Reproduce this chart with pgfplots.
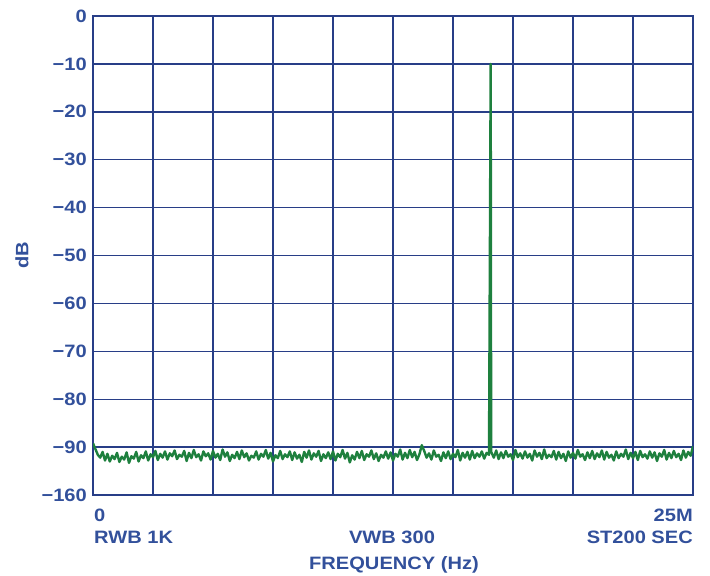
\documentclass[border=0pt]{standalone}
\usepackage{pgfplots}
\pgfplotsset{compat=1.18}
\usepackage{fontspec}
\setmainfont{Liberation Sans}[FakeStretch=1.12]
\definecolor{gridblue}{RGB}{40,62,135}
\definecolor{txtblue}{RGB}{50,80,155}
\definecolor{sgreen}{RGB}{30,128,62}
\newcommand{\lblfont}{\fontsize{18}{18}\selectfont\bfseries}
\begin{document}
\begin{tikzpicture}[x=1bp,y=1bp]
\useasboundingbox (0,0) rectangle (710,-576);
\begin{axis}[at={(93bp,-16bp)}, anchor=north west, scale only axis,
  width=600bp, height=479bp,
  xmin=0, xmax=25, ymin=-100, ymax=0,
  xtick={2.5,5,7.5,10,12.5,15,17.5,20,22.5}, xticklabels={},
  ytick={-100,-90,-80,-70,-60,-50,-40,-30,-20,-10,0},
  yticklabels={−160,−90,−80,−70,−60,−50,−40,−30,−20,−10,0},
  grid=major, major grid style={gridblue, line width=1.4bp},
  axis line style={gridblue, line width=2.4bp},
  tick style={draw=none},
  yticklabel style={font=\lblfont, text=txtblue, inner sep=0pt, anchor=east, xshift=-6bp},
]
\addplot[sgreen, line width=2.4bp, line join=round] coordinates {
(0.0,-89.2)(0.1,-90.4)(0.2,-91.6)(0.3,-92.2)(0.4,-91.0)(0.5,-92.8)(0.6,-91.4)(0.7,-93.0)(0.8,-91.8)(0.9,-92.5)
(1.0,-91.2)(1.1,-93.1)(1.2,-92.0)(1.3,-92.6)(1.4,-91.1)(1.5,-93.3)(1.6,-91.9)(1.7,-92.4)(1.8,-91.0)(1.9,-93.0)
(2.0,-91.7)(2.1,-92.3)(2.2,-90.9)(2.3,-92.8)(2.4,-91.5)(2.5,-92.1)(2.6,-90.8)(2.7,-92.7)(2.8,-91.4)(2.9,-92.2)
(3.0,-90.9)(3.1,-92.6)(3.2,-91.3)(3.3,-91.9)(3.4,-90.7)(3.5,-92.5)(3.6,-91.6)(3.7,-92.0)(3.8,-90.8)(3.9,-92.9)
(4.0,-91.2)(4.1,-92.3)(4.2,-90.6)(4.3,-92.1)(4.4,-91.5)(4.5,-92.8)(4.6,-90.9)(4.7,-91.9)(4.8,-91.3)(4.9,-92.6)
(5.0,-90.8)(5.1,-92.2)(5.2,-91.4)(5.3,-92.7)(5.4,-90.5)(5.5,-92.0)(5.6,-91.1)(5.7,-92.9)(5.8,-91.6)(5.9,-92.3)
(6.0,-91.0)(6.1,-92.5)(6.2,-90.7)(6.3,-92.1)(6.4,-91.3)(6.5,-92.8)(6.6,-91.8)(6.7,-92.2)(6.8,-90.9)(6.9,-92.6)
(7.0,-91.4)(7.1,-92.0)(7.2,-90.6)(7.3,-92.4)(7.4,-91.2)(7.5,-93.0)(7.6,-91.7)(7.7,-92.3)(7.8,-90.8)(7.9,-92.5)
(8.0,-91.5)(8.1,-92.1)(8.2,-90.9)(8.3,-92.7)(8.4,-91.1)(8.5,-92.4)(8.6,-91.6)(8.7,-93.1)(8.8,-91.0)(8.9,-92.2)
(9.0,-90.7)(9.1,-92.6)(9.2,-91.3)(9.3,-92.0)(9.4,-90.8)(9.5,-92.9)(9.6,-91.5)(9.7,-92.3)(9.8,-91.1)(9.9,-92.5)
(10.0,-90.9)(10.1,-92.8)(10.2,-91.4)(10.3,-92.1)(10.4,-90.6)(10.5,-92.4)(10.6,-91.2)(10.7,-93.2)(10.8,-91.7)(10.9,-92.6)
(11.0,-91.0)(11.1,-92.3)(11.2,-90.8)(11.3,-92.7)(11.4,-91.5)(11.5,-92.0)(11.6,-90.7)(11.7,-92.5)(11.8,-91.3)(11.9,-92.9)
(12.0,-91.6)(12.1,-92.2)(12.2,-90.9)(12.3,-92.4)(12.4,-91.1)(12.5,-92.8)(12.6,-91.4)(12.7,-92.0)(12.8,-90.5)(12.9,-92.6)
(13.0,-91.2)(13.1,-92.3)(13.2,-90.6)(13.3,-92.1)(13.4,-91.0)(13.5,-92.7)(13.6,-91.5)(13.7,-89.6)(13.8,-90.8)(13.9,-92.2)
(14.0,-91.3)(14.1,-92.6)(14.2,-90.7)(14.3,-92.0)(14.4,-91.6)(14.5,-92.9)(14.6,-91.1)(14.7,-92.3)(14.8,-90.9)(14.9,-92.5)
(15.0,-91.4)(15.1,-92.1)(15.2,-90.6)(15.3,-92.8)(15.4,-91.2)(15.5,-92.2)(15.6,-91.0)(15.7,-92.6)(15.8,-90.8)(15.9,-92.3)
(16.0,-91.3)(16.1,-92.0)(16.2,-90.9)(16.3,-92.4)(16.4,-91.2)(16.5,-91.6)(16.57,-10)(16.59,-91.0)
(16.7,-92.2)(16.8,-90.7)(16.9,-92.5)
(17.0,-91.1)(17.1,-92.3)(17.2,-90.8)(17.3,-92.0)(17.4,-91.5)(17.5,-92.7)(17.6,-90.6)(17.7,-92.1)(17.8,-91.3)(17.9,-92.4)
(18.0,-90.9)(18.1,-92.2)(18.2,-91.4)(18.3,-92.8)(18.4,-90.7)(18.5,-92.0)(18.6,-91.2)(18.7,-92.5)(18.8,-90.5)(18.9,-92.3)
(19.0,-91.6)(19.1,-92.1)(19.2,-90.8)(19.3,-92.6)(19.4,-91.0)(19.5,-92.3)(19.6,-91.4)(19.7,-92.9)(19.8,-90.9)(19.9,-92.2)
(20.0,-91.2)(20.1,-92.4)(20.2,-90.6)(20.3,-92.0)(20.4,-91.5)(20.5,-92.7)(20.6,-91.1)(20.7,-92.3)(20.8,-90.8)(20.9,-92.5)
(21.0,-91.3)(21.1,-92.1)(21.2,-90.7)(21.3,-92.6)(21.4,-91.0)(21.5,-92.2)(21.6,-91.6)(21.7,-92.8)(21.8,-90.9)(21.9,-92.3)
(22.0,-91.4)(22.1,-92.0)(22.2,-90.5)(22.3,-92.5)(22.4,-91.2)(22.5,-92.3)(22.6,-91.0)(22.7,-92.7)(22.8,-90.8)(22.9,-92.1)
(23.0,-91.5)(23.1,-92.4)(23.2,-90.9)(23.3,-92.2)(23.4,-91.1)(23.5,-92.9)(23.6,-91.3)(23.7,-92.0)(23.8,-90.6)(23.9,-92.6)
(24.0,-91.2)(24.1,-92.3)(24.2,-90.8)(24.3,-92.1)(24.4,-91.4)(24.5,-92.7)(24.6,-90.7)(24.7,-92.2)(24.8,-91.0)(24.9,-91.8)(25.0,-89.8)
};
\end{axis}
\begin{scope}[every node/.style={text=txtblue, font=\lblfont, inner sep=0pt}]
\node[anchor=west] at (94,-515) {0};
\node[anchor=west] at (94,-537) {RWB 1K};
\node[anchor=east] at (693,-515) {25M};
\node[anchor=east] at (693,-537) {ST200 SEC};
\node at (392,-537) {VWB 300};
\node at (394,-565) {FREQUENCY (Hz)};
\node[rotate=90] at (22,-255) {dB};
\end{scope}
\end{tikzpicture}
\end{document}
